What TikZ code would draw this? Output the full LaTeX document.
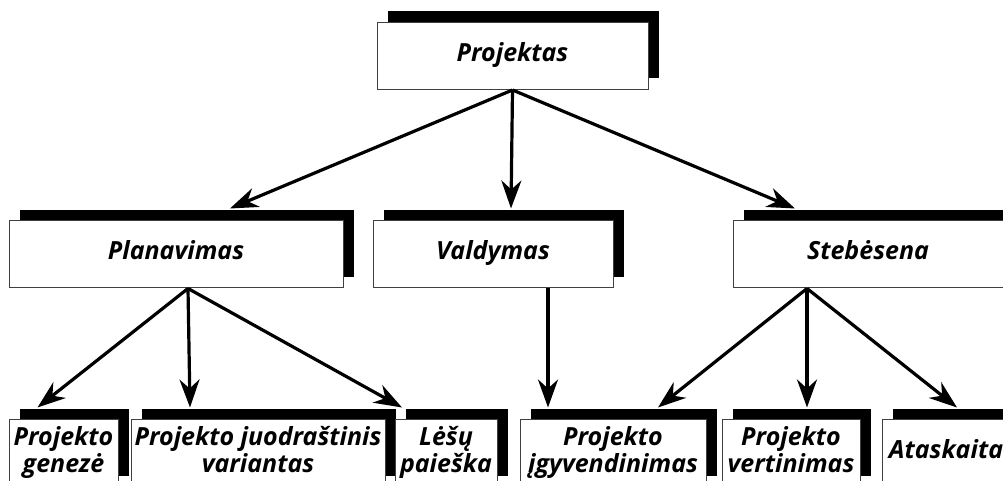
\documentclass[tikz,border=0pt]{standalone}
\usepackage{fontspec}
\setmainfont{Open Sans}
\usetikzlibrary{arrows.meta,shadows}

\tikzset{
	box/.style={draw=black!75, line width=1pt, fill=white, inner sep=0pt, align=center,
		minimum height=67pt, general shadow={fill=black, shadow xshift=11pt, shadow yshift=11pt},
		font=\fontsize{25}{27}\selectfont\bfseries\itshape,
		execute at begin node=\strut, execute at end node=\strut},
	arr/.style={line width=3.2pt, -{Stealth[length=28pt, width=20pt, inset=9pt]}}
}

\begin{document}
\begin{tikzpicture}[x=1pt, y=1pt]
			%%%%% START %%%%%
			\useasboundingbox (0, 0) rectangle (1003, 481);
			\clip (0, 0) rectangle (1003, 481);
			
			\node[box, minimum width=271pt] (proj) at (512.5, 425) {Projektas};
			
			\node[box, minimum width=334pt] (plan) at (176, 226.5) {Planavimas};
			\node[box, minimum width=240pt] (vald) at (493, 226.5) {Valdymas};
			\node[box, minimum width=270pt] (steb) at (868, 226.5) {Stebėsena};
			
			\node[box, minimum width=109pt] (gen) at (63.5, 27.5) {Projekto\\genezė};
			\node[box, minimum width=254pt] (juod) at (258, 27.5) {Projekto juodraštinis\\variantas};
			\node[box, minimum width=102pt] (lesu) at (446, 27.5) {Lėšų\\paieška};
			\node[box, minimum width=186pt] (igy) at (613, 27.5) {Projekto\\įgyvendinimas};
			\node[box, minimum width=138pt] (vert) at (791, 27.5) {Projekto\\vertinimas};
			\node[box, minimum width=128pt] (atas) at (946, 27.5) {Ataskaita};
			
			\draw[arr] (proj.south) -- ([xshift=54pt, yshift=12pt]plan.north);
			\draw[arr] (proj.south) -- ([xshift=18pt, yshift=12pt]vald.north);
			\draw[arr] (proj.south) -- ([xshift=-73pt, yshift=12pt]steb.north);
			
			\draw[arr] ([xshift=12pt]plan.south) -- ([xshift=-26pt, yshift=12pt]gen.north);
			\draw[arr] ([xshift=12pt]plan.south) -- ([xshift=-68pt, yshift=12pt]juod.north);
			\draw[arr] ([xshift=12pt]plan.south) -- ([xshift=-44pt, yshift=12pt]lesu.north);
			
			\draw[arr] ([xshift=55pt]vald.south) -- ([xshift=-65pt, yshift=12pt]igy.north);
			
			\draw[arr] ([xshift=-61pt]steb.south) -- ([xshift=45pt, yshift=12pt]igy.north);
			\draw[arr] ([xshift=-61pt]steb.south) -- ([xshift=16pt, yshift=12pt]vert.north);
			\draw[arr] ([xshift=-61pt]steb.south) -- ([xshift=11pt, yshift=12pt]atas.north);
			%%%%% END %%%%%
		\end{tikzpicture}
\end{document}
